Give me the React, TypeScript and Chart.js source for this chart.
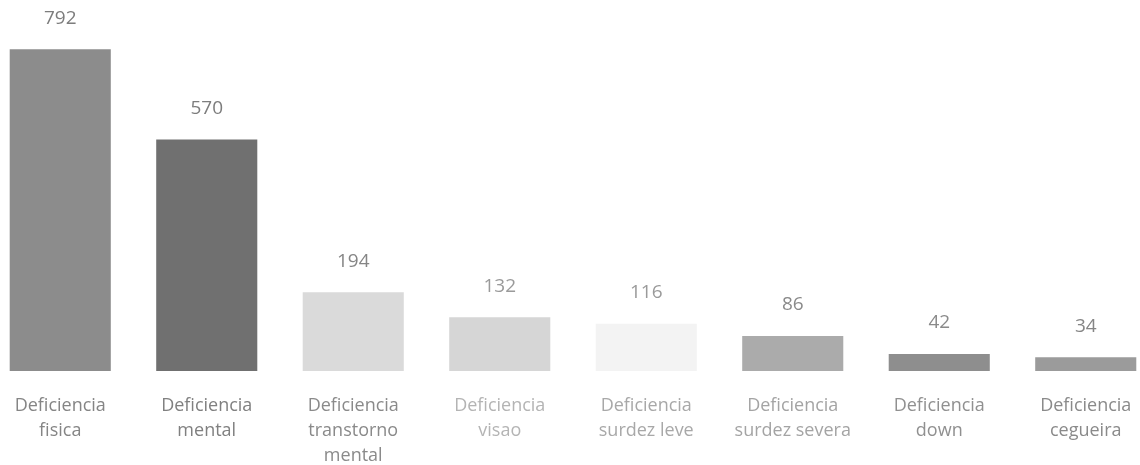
import React, { useEffect, useRef } from "react";
import { Chart, registerables } from "chart.js";

Chart.register(...registerables);

const categories: string[][] = [
  ["Deficiencia", "fisica"],
  ["Deficiencia", "mental"],
  ["Deficiencia", "transtorno", "mental"],
  ["Deficiencia", "visao"],
  ["Deficiencia", "surdez leve"],
  ["Deficiencia", "surdez severa"],
  ["Deficiencia", "down"],
  ["Deficiencia", "cegueira"],
];
const values: number[] = [792, 570, 194, 132, 116, 86, 42, 34];
const barColors: string[] = ["#8c8c8c", "#707070", "#dadada", "#d6d6d6", "#f3f3f3", "#ababab", "#8e8e8e", "#9b9b9b"];
const tickColors: string[] = ["#858585", "#808080", "#8a8a8a", "#b4b4b4", "#a8a8a8", "#a4a4a4", "#909090", "#8a8a8a"];
const valueColors: string[] = ["#7d7d7d", "#7d7d7d", "#858585", "#9a9a9a", "#9a9a9a", "#8a8a8a", "#8a8a8a", "#858585"];

const valueLabels = {
  id: "valueLabels",
  afterDatasetsDraw(chart: any) {
    const ctx = chart.ctx;
    const meta = chart.getDatasetMeta(0);
    ctx.save();
    ctx.font = "19px 'Open Sans'";
    ctx.textAlign = "center";
    ctx.textBaseline = "middle";
    meta.data.forEach((bar: any, i: number) => {
      ctx.fillStyle = valueColors[i];
      ctx.fillText(String(values[i]), bar.x, bar.y - 31);
    });
    ctx.restore();
  },
};

export default function App() {
  const ref = useRef<HTMLCanvasElement | null>(null);
  useEffect(() => {
    if (!ref.current) return;
    const chart = new Chart(ref.current, {
      type: "bar",
      data: {
        labels: categories,
        datasets: [
          {
            data: values,
            backgroundColor: barColors,
            borderWidth: 0,
            categoryPercentage: 1,
            barPercentage: 0.69,
          },
        ],
      },
      options: {
        responsive: false,
        animation: false,
        layout: { padding: 0 },
        plugins: { legend: { display: false }, tooltip: { enabled: false } },
        scales: {
          x: {
            grid: { display: false, drawTicks: false },
            border: { display: false },
            ticks: {
              color: tickColors,
              font: { family: "'Open Sans'", size: 18, lineHeight: 25 / 18 },
              padding: 22,
              maxRotation: 0,
              autoSkip: false,
            },
          },
          y: {
            display: false,
            min: 0,
            max: 913,
          },
        },
      },
      plugins: [valueLabels],
    });
    return () => chart.destroy();
  }, []);
  return (
    <div style={{ position: "fixed", left: 0, top: 0, width: 1140, height: 465, overflow: "hidden", background: "#fff" }}>
      <canvas ref={ref} width={1172} height={490} style={{ position: "absolute", left: -13, top: 0, width: 1172, height: 490 }} />
    </div>
  );
}
